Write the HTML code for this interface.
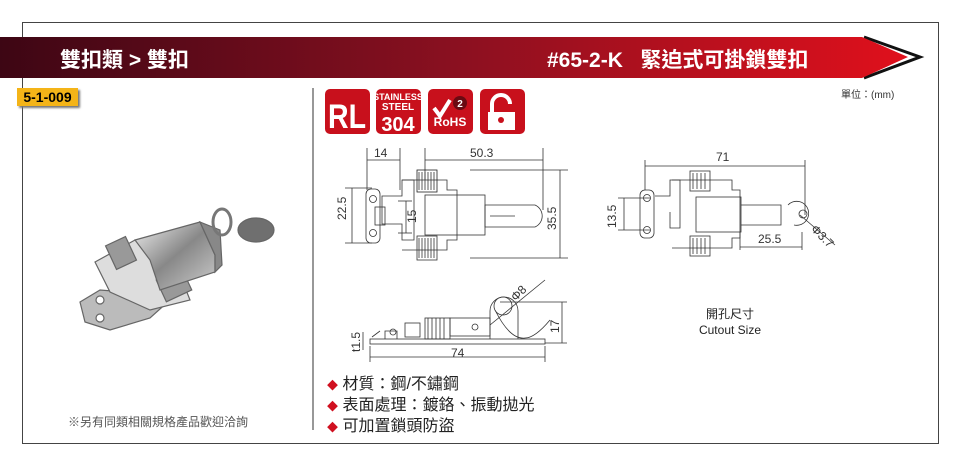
<!DOCTYPE html>
<html><head><meta charset="utf-8">
<style>
body{margin:0;width:960px;height:466px;background:#fff;position:relative;overflow:hidden;font-family:"Liberation Sans","Noto Sans CJK TC",sans-serif;}
.a{position:absolute;}
</style></head><body>
<div class="a" style="left:22px;top:22px;width:915px;height:420px;border:1px solid #444;"></div>
<svg class="a" style="left:0;top:0" width="960" height="466">
<defs>
<linearGradient id="g" x1="0" x2="1"><stop offset="0" stop-color="#3d0614"/><stop offset="0.5" stop-color="#8a1020"/><stop offset="1" stop-color="#e0101c"/></linearGradient>
<linearGradient id="m" x1="0" x2="1" y1="0" y2="1"><stop offset="0" stop-color="#eee"/><stop offset="0.5" stop-color="#888"/><stop offset="1" stop-color="#ccc"/></linearGradient>
</defs>
<polyline points="864,37 920,57 864,78" fill="none" stroke="#111" stroke-width="3"/>
<polygon points="0,37 862,37 908,57 862,78 0,78" fill="url(#g)"/>
<line x1="313" y1="88" x2="313" y2="430" stroke="#777" stroke-width="1.5"/>
<!-- badges -->
<g font-family="Liberation Sans,sans-serif" font-weight="bold" fill="#fff">
<rect x="325" y="89" width="45" height="45" rx="5" fill="#c8101c"/><text x="347" y="128" font-size="34" text-anchor="middle" textLength="38" lengthAdjust="spacingAndGlyphs">RL</text>
<rect x="376" y="89" width="45" height="45" rx="5" fill="#c8101c"/><text x="398" y="100" font-size="9" text-anchor="middle">STAINLESS</text><text x="398" y="110" font-size="10" text-anchor="middle">STEEL</text><text x="398" y="131" font-size="20" text-anchor="middle">304</text>
<rect x="428" y="89" width="45" height="45" rx="5" fill="#c8101c"/><path d="M434 108 l6 8 l10 -16" stroke="#fff" stroke-width="4" fill="none"/><circle cx="460" cy="103" r="7" fill="#6a0a12"/><text x="460" y="107" font-size="10" text-anchor="middle">2</text><text x="450" y="126" font-size="12" text-anchor="middle">RoHS</text>
<rect x="480" y="89" width="45" height="45" rx="5" fill="#c8101c"/><rect x="488" y="112" width="27" height="18" fill="#fff"/><path d="M492 112 v-8 a9 9 0 0 1 18 0" stroke="#fff" stroke-width="4" fill="none"/><circle cx="501" cy="120" r="3" fill="#c8101c"/>
</g>
<!-- product photo (approx) -->
<g stroke="#666" stroke-width="1.2">
<polygon points="80,302 100,290 125,292 150,285 170,300 150,318 110,330 85,322" fill="#bbb"/>
<polygon points="95,262 135,240 175,262 190,300 150,310 110,292" fill="#ddd"/>
<rect x="110" y="240" width="22" height="26" fill="#999" transform="rotate(-25 121 253)"/>
<rect x="160" y="273" width="28" height="24" fill="#999" transform="rotate(-25 174 285)"/>
<polygon points="135,240 200,222 215,255 215,272 160,290 150,260" fill="url(#m)"/>
<polygon points="200,222 220,230 222,265 215,272 215,255" fill="#888"/>
<ellipse cx="222" cy="222" rx="9" ry="13" fill="none" stroke="#777" stroke-width="3"/>
<ellipse cx="256" cy="230" rx="18" ry="12" fill="#6f6f6f"/>
<circle cx="100" cy="318" r="4" fill="#fff"/><circle cx="100" cy="300" r="4" fill="#fff"/>
</g>
<!-- top view -->
<g stroke="#333" stroke-width="0.8" fill="none">
<line x1="367" y1="148" x2="367" y2="190"/><line x1="400" y1="148" x2="400" y2="190"/><line x1="367" y1="160" x2="400" y2="160"/>
<line x1="425" y1="148" x2="425" y2="180"/><line x1="543" y1="148" x2="543" y2="210"/><line x1="425" y1="160" x2="543" y2="160"/>
<line x1="470" y1="170" x2="568" y2="170"/><line x1="470" y1="258" x2="568" y2="258"/><line x1="560" y1="170" x2="560" y2="258"/>
<line x1="345" y1="188" x2="372" y2="188"/><line x1="345" y1="243" x2="372" y2="243"/><line x1="352" y1="188" x2="352" y2="243"/>
<line x1="398" y1="201" x2="412" y2="201"/><line x1="398" y1="233" x2="412" y2="233"/><line x1="406" y1="201" x2="406" y2="233"/>
<rect x="366" y="189" width="14" height="54" rx="5"/><circle cx="373" cy="199" r="3.5"/><circle cx="373" cy="233" r="3.5"/>
<rect x="375" y="207" width="10" height="18"/>
<path d="M382 196 h20 v-16 h12 v60 h-12 v-16 h-20 z"/>
<path d="M402 180 h45 v10 h10 v50 h-10 v10 h-45"/>
<rect x="425" y="195" width="60" height="40"/>
<path d="M485 205 h50 a12 12 0 0 1 0 22 h-50 z"/><line x1="490" y1="216" x2="515" y2="216"/>
<rect x="417" y="170" width="20" height="22" stroke="#222"/><path d="M419 172 v18 M422 172 v18 M425 172 v18 M428 172 v18 M431 172 v18 M434 172 v18"/>
<rect x="417" y="236" width="20" height="24"/><path d="M419 238 v20 M422 238 v20 M425 238 v20 M428 238 v20 M431 238 v20 M434 238 v20"/>
</g>
<!-- right view -->
<g stroke="#333" stroke-width="0.8" fill="none">
<line x1="645" y1="160" x2="645" y2="190"/><line x1="805" y1="160" x2="805" y2="215"/><line x1="645" y1="166" x2="805" y2="166"/>
<line x1="618" y1="198" x2="650" y2="198"/><line x1="618" y1="230" x2="650" y2="230"/><line x1="624" y1="198" x2="624" y2="230"/>
<line x1="740" y1="232" x2="740" y2="250"/><line x1="802" y1="232" x2="802" y2="250"/><line x1="740" y1="247" x2="802" y2="247"/>
<line x1="800" y1="215" x2="835" y2="245"/>
<rect x="640" y="190" width="14" height="48" rx="5"/><circle cx="647" cy="198" r="3.5"/><circle cx="647" cy="230" r="3.5"/>
<path d="M655 196 h15 v-16 h10 v48 h-10 v-16"/>
<path d="M672 180 h60 v10 h8 v48 h-8 v10 h-60"/>
<rect x="696" y="197" width="45" height="35"/>
<path d="M741 205 h40 v20 h-40"/><path d="M788 205 a12 12 0 1 1 6 20"/><circle cx="803" cy="214" r="4"/>
<rect x="690" y="171" width="20" height="20"/><path d="M693 173 v16 M697 173 v16 M701 173 v16 M705 173 v16"/>
<rect x="690" y="236" width="20" height="20"/><path d="M693 238 v16 M697 238 v16 M701 238 v16 M705 238 v16"/>
</g>
<!-- side view -->
<g stroke="#333" stroke-width="0.8" fill="none">
<rect x="370" y="339" width="175" height="5"/>
<line x1="370" y1="346" x2="370" y2="362"/><line x1="545" y1="346" x2="545" y2="362"/><line x1="370" y1="357" x2="545" y2="357"/>
<line x1="500" y1="302" x2="567" y2="302"/><line x1="545" y1="343" x2="567" y2="343"/><line x1="562" y1="302" x2="562" y2="343"/>
<line x1="363" y1="332" x2="363" y2="350"/>
<path d="M372 337 l8 -6 M385 339 v-8 h12 v8"/><circle cx="393" cy="332" r="3"/>
<rect x="405" y="323" width="15" height="14"/><rect x="425" y="318" width="25" height="21"/>
<path d="M428 318 v21 M432 318 v21 M436 318 v21 M440 318 v21 M444 318 v21"/>
<rect x="450" y="318" width="40" height="18"/><circle cx="475" cy="327" r="3"/>
<path d="M490 339 v-28 a14 14 0 0 1 28 0 v28"/><circle cx="503" cy="306" r="9"/>
<path d="M495 310 q15 30 30 28 q10 0 25 -18"/><line x1="490" y1="325" x2="545" y2="280"/>
</g>
</svg>
<div class="a" style="left:60px;top:44px;color:#fff;font-size:21px;font-weight:bold;">雙扣類 &gt; 雙扣</div>
<div class="a" style="left:547px;top:44px;color:#fff;font-size:21px;font-weight:bold;">#65-2-K&nbsp;&nbsp;&nbsp;緊迫式可掛鎖雙扣</div>
<div class="a" style="left:17px;top:88px;width:61px;height:18px;background:#f4b418;box-shadow:2px 2px 2px #777;font-size:14px;font-weight:bold;line-height:18px;text-align:center;">5-1-009</div>
<div class="a" style="left:841px;top:86px;font-size:10px;color:#333;">單位：(mm)</div>
<div class="a" style="left:68px;top:413px;font-size:12px;color:#555;">※另有同類相關規格產品歡迎洽詢</div>
<div class="a" style="left:327px;top:375px;font-size:16px;line-height:20px;color:#222;"><span style="color:#d01020;font-size:11px">◆</span> 材質：鋼/不鏽鋼<br><span style="color:#d01020;font-size:11px">◆</span> 表面處理：鍍鉻、振動拋光<br><span style="color:#d01020;font-size:11px">◆</span> 可加置鎖頭防盜</div>
<div class="a" style="left:600px;top:306px;width:260px;text-align:center;font-size:12px;line-height:16px;color:#222;">開孔尺寸<br>Cutout Size</div>
<div class="a" style="font-size:12px;color:#333;left:374px;top:146px;">14</div>
<div class="a" style="font-size:12px;color:#333;left:470px;top:146px;">50.3</div>
<div class="a" style="font-size:12px;color:#333;left:716px;top:150px;">71</div>
<div class="a" style="font-size:12px;color:#333;left:758px;top:232px;">25.5</div>
<div class="a" style="font-size:12px;color:#333;left:451px;top:346px;">74</div>
<div class="a" style="font-size:12px;color:#333;left:335px;top:220px;transform:rotate(-90deg);transform-origin:0 0;">22.5</div>
<div class="a" style="font-size:12px;color:#333;left:405px;top:223px;transform:rotate(-90deg);transform-origin:0 0;">15</div>
<div class="a" style="font-size:12px;color:#333;left:545px;top:230px;transform:rotate(-90deg);transform-origin:0 0;">35.5</div>
<div class="a" style="font-size:12px;color:#333;left:605px;top:228px;transform:rotate(-90deg);transform-origin:0 0;">13.5</div>
<div class="a" style="font-size:12px;color:#333;left:548px;top:333px;transform:rotate(-90deg);transform-origin:0 0;">17</div>
<div class="a" style="font-size:12px;color:#333;left:349px;top:352px;transform:rotate(-90deg);transform-origin:0 0;">t1.5</div>
<div class="a" style="font-size:12px;color:#333;left:508px;top:294px;transform:rotate(-45deg);transform-origin:0 0;">Φ8</div>
<div class="a" style="font-size:12px;color:#333;left:818px;top:222px;transform:rotate(45deg);transform-origin:0 0;">Φ3.7</div>
</body></html>
